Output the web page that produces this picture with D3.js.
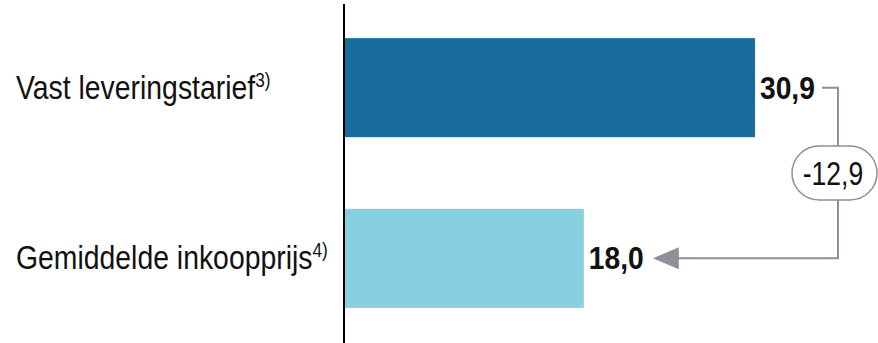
<!DOCTYPE html>
<html><head><meta charset="utf-8">
<script src="https://cdn.jsdelivr.net/npm/d3@7"></script>
<style>
html,body{margin:0;padding:0;background:#fff;}
svg{display:block;}
text{font-family:"Liberation Sans",Arial,sans-serif;}
</style></head>
<body>
<svg id="chart" width="878" height="343"></svg>
<script>
const categories = ["Vast leveringstarief", "Gemiddelde inkoopprijs"];
const footnotes = ["3)", "4)"];
const values = [30.9, 18.0];
const colors = ["#186b9c", "#88cfe0"];

const W = 878, H = 343;
const svg = d3.select("#chart");
const fmt = v => d3.format(".1f")(v).replace(".", ",").replace("−", "-");

const x = d3.scaleLinear().domain([0, d3.max(values)]).range([345, 755]);
const y = d3.scaleBand().domain(categories).range([4, 342]).paddingInner(0.42).paddingOuter(0.2);

// bars
svg.selectAll("rect.bar").data(categories).join("rect")
  .attr("class", "bar")
  .attr("x", x(0))
  .attr("y", d => y(d))
  .attr("width", (d, i) => x(values[i]) - x(0))
  .attr("height", y.bandwidth())
  .attr("fill", (d, i) => colors[i]);

// axis line
svg.append("line").attr("x1", 344).attr("x2", 344).attr("y1", 4).attr("y2", H)
  .attr("stroke", "#000").attr("stroke-width", 2);

// category labels (narrow look via horizontal scale)
const lab = svg.selectAll("text.cat").data(categories).join("text")
  .attr("class", "cat")
  .attr("transform", d => `translate(16,${y(d) + y.bandwidth() / 2 + 11}) scale(0.86,1)`)
  .attr("font-size", 33)
  .attr("fill", "#111");
lab.append("tspan").text(d => d);
lab.append("tspan").attr("font-size", 20).attr("dy", -12).text((d, i) => footnotes[i]);

// value labels
svg.selectAll("text.val").data(categories).join("text")
  .attr("class", "val")
  .attr("transform", (d, i) => `translate(${x(values[i]) + 5},${y(d) + y.bandwidth() / 2 + 11}) scale(0.91,1)`)
  .attr("font-size", 31)
  .attr("font-weight", "bold")
  .attr("fill", "#111")
  .text((d, i) => fmt(values[i]));

// difference annotation
const grey = "#8c9199";
const y1 = y(categories[0]) + y.bandwidth() / 2;
const y2 = y(categories[1]) + y.bandwidth() / 2;
const bx = 838;
const startX = x(values[0]) + 67;
const tipX = x(values[1]) + 69;
svg.append("path")
  .attr("d", `M${startX},${y1}H${bx}V${y2}H${tipX + 24}`)
  .attr("fill", "none").attr("stroke", grey).attr("stroke-width", 2);
svg.append("path")
  .attr("d", `M${tipX},${y2}L${tipX + 26},${y2 - 11}L${tipX + 26},${y2 + 11}Z`)
  .attr("fill", grey);

const my = (y1 + y2) / 2;
svg.append("rect")
  .attr("x", 792).attr("y", my - 27).attr("width", 85).attr("height", 54)
  .attr("rx", 27).attr("ry", 27)
  .attr("fill", "#fff").attr("stroke", grey).attr("stroke-width", 1.5);
svg.append("text")
  .attr("transform", `translate(833,${my + 12}) scale(0.78,1)`)
  .attr("text-anchor", "middle")
  .attr("font-size", 34)
  .attr("fill", "#111")
  .text(fmt(values[1] - values[0]));
</script>
</body></html>
